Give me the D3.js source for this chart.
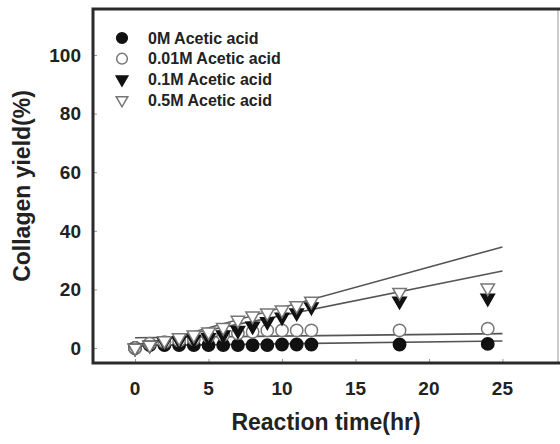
<!DOCTYPE html>
<html><head><meta charset="utf-8">
<script src="https://cdn.jsdelivr.net/npm/d3@7"></script>
<style>html,body{margin:0;padding:0;background:#fff;}svg{display:block;}</style>
</head><body>
<svg id="chart" width="560" height="444"></svg>
<script>
// ---- data ----
const hours = [0,1,2,3,4,5,6,7,8,9,10,11,12,18,24];
const acid0M    = [0,1,1,1,1,1,1,1,1,1,1.2,1.2,1.2,1.2,1.4];
const acid001M  = [0,1.5,2,2.5,3,4,4.5,5,5.5,6,6,6,6,6,6.6];
const acid01M   = [0,1,2,2.5,3,3.5,4.5,6,7.5,9,10.5,12,14,16,17];
const acid05M   = [0,1,2.5,3.5,4.5,5.5,7,9.5,11,12,13,14.5,16,19,20.5];
const seriesNames = ["0M Acetic acid","0.01M Acetic acid","0.1M Acetic acid","0.5M Acetic acid"];
// fitted lines: [start hour, end hour] and [start value, end value]
const fitHours = [0,25];
const fit0M   = [0.8,2.4];
const fit001M = [3.5,4.9];
const fit01M  = [1.0,26.3];
const fit05M  = [0.0,34.5];
const xTicks = [0,5,10,15,20,25];
const yTicks = [0,20,40,60,80,100];

// ---- layout ----
const svg = d3.select("#chart");
const font = "'Liberation Sans', Arial, sans-serif";
const x = d3.scaleLinear().domain([-2.86, 28.85]).range([93, 559]);
const y = d3.scaleLinear().domain([0, 100]).range([348, 55]);
const yTop = y.invert(9), yBot = y.invert(363);

// fit lines
const fits = [fit0M, fit001M, fit01M, fit05M];
const line = d3.line().x(d => x(d[0])).y(d => y(d[1]));
svg.append("g").selectAll("path").data(fits).join("path")
  .attr("d", f => line(fitHours.map((h,i) => [h, f[i]])))
  .attr("fill","none").attr("stroke","#555").attr("stroke-width",1.6);

// markers
const styles = [
  {type:d3.symbolCircle, size:120, fill:"#111", stroke:"#111", rot:0},
  {type:d3.symbolCircle, size:120, fill:"#fff", stroke:"#777", rot:0},
  {type:d3.symbolTriangle, size:78, fill:"#111", stroke:"#111", rot:180},
  {type:d3.symbolTriangle, size:78, fill:"#fff", stroke:"#777", rot:180}
];
const series = [acid0M, acid001M, acid01M, acid05M];
const drawOrder = [0,1,2,3];
drawOrder.forEach(si => {
  const st = styles[si];
  svg.append("g").selectAll("path").data(hours.map((h,i)=>[h, series[si][i]])).join("path")
    .attr("d", d3.symbol().type(st.type).size(st.size))
    .attr("transform", d => `translate(${x(d[0])},${y(d[1])}) rotate(${st.rot})`)
    .attr("fill", st.fill).attr("stroke", st.stroke).attr("stroke-width",1.5);
});

// axes ticks (inward)
const xAxis = d3.axisTop(x).tickValues(xTicks).tickSize(4).tickFormat("");
svg.append("g").attr("transform","translate(0,363)").call(xAxis)
  .call(g=>g.select(".domain").remove())
  .call(g=>g.selectAll("line").attr("stroke","#999"));
const yAxis = d3.axisRight(y).tickValues(yTicks).tickSize(4).tickFormat("");
svg.append("g").attr("transform","translate(93,0)").call(yAxis)
  .call(g=>g.select(".domain").remove())
  .call(g=>g.selectAll("line").attr("stroke","#999"));

// tick labels
svg.append("g").selectAll("text").data(xTicks).join("text")
  .attr("x", d => x(d)).attr("y", 395)
  .attr("text-anchor","middle").attr("font-family",font).attr("font-weight","bold")
  .attr("font-size",19).attr("fill","#222").text(d => d);
svg.append("g").selectAll("text").data(yTicks).join("text")
  .attr("x", 81).attr("y", d => y(d)).attr("dy","0.36em")
  .attr("text-anchor","end").attr("font-family",font).attr("font-weight","bold")
  .attr("font-size",19).attr("fill","#222").text(d => d);

// frame
svg.append("line").attr("x1",558).attr("x2",558).attr("y1",y(yTop)).attr("y2",y(yBot))
  .attr("stroke","#bbb").attr("stroke-width",1.5);
svg.append("path")
  .attr("d", d3.line()([[560,y(yTop)],[x(-2.86),y(yTop)],[x(-2.86),y(yBot)],[560,y(yBot)]]))
  .attr("fill","none").attr("stroke","#2a2a2a").attr("stroke-width",3);

// axis titles
svg.append("text").attr("x",326).attr("y",430).attr("text-anchor","middle")
  .attr("font-family",font).attr("font-weight","bold").attr("font-size",23).attr("fill","#222")
  .text("Reaction time(hr)");
svg.append("text").attr("transform","translate(30,186) rotate(-90)").attr("text-anchor","middle")
  .attr("font-family",font).attr("font-weight","bold").attr("font-size",23).attr("fill","#222")
  .text("Collagen yield(%)");

// legend
const leg = svg.append("g");
seriesNames.forEach((name,i) => {
  const st = styles[i];
  const ly = 38 + i*20.7;
  leg.append("path").attr("d", d3.symbol().type(st.type).size(st.size*0.75))
    .attr("transform", `translate(122,${ly}) rotate(${st.rot})`)
    .attr("fill", st.fill).attr("stroke", st.stroke).attr("stroke-width",1.5);
  leg.append("text").attr("x",148).attr("y",ly).attr("dy","0.35em")
    .attr("font-family",font).attr("font-weight","bold").attr("font-size",16).attr("fill","#222")
    .text(name);
});
</script>
</body></html>
